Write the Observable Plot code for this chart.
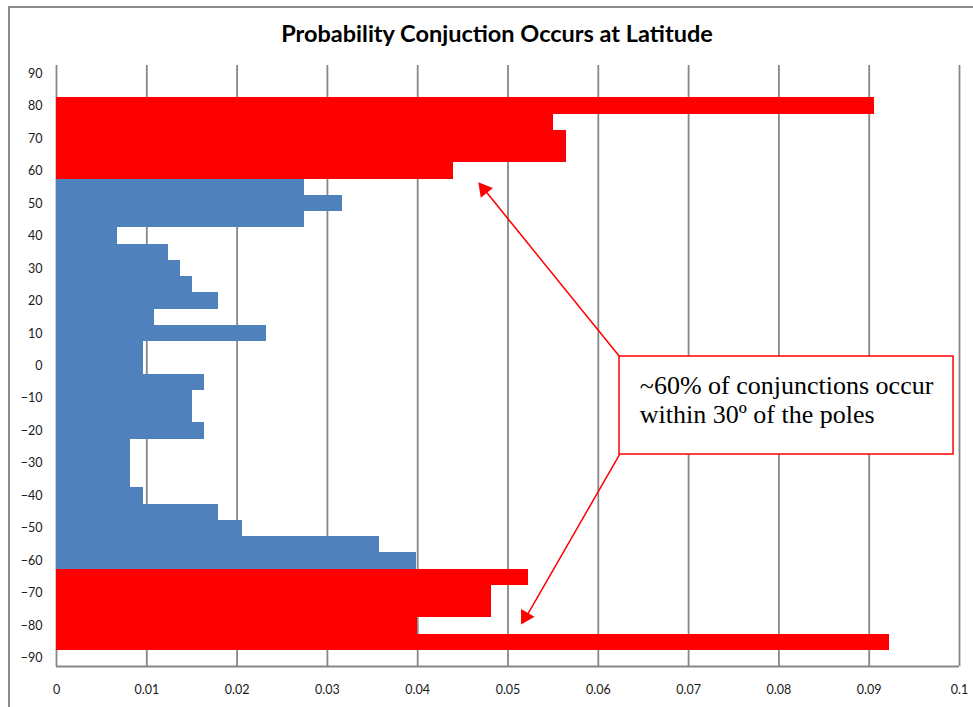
<!DOCTYPE html>
<html>
<head>
<meta charset="utf-8">
<script src="https://cdn.jsdelivr.net/npm/d3@7"></script>
<script src="https://cdn.jsdelivr.net/npm/@observablehq/plot@0.6"></script>
<style>
  html, body { margin: 0; padding: 0; background: #fff; }
  #wrap { position: relative; width: 973px; height: 707px; overflow: hidden; }
  #frame { position: absolute; left: 8px; top: 6px; width: 1000px; height: 800px; border: 2px solid #8c8c8c; box-sizing: border-box; }
  #title { position: absolute; left: 0; width: 994px; top: 19px; text-align: center; font-family: Lato, "Open Sans", sans-serif; font-weight: bold; font-size: 23.5px; color: #000; }
  #chart { position: absolute; left: 0; top: 0; }
</style>
</head>
<body>
<div id="wrap">
  <div id="frame"></div>
  <div id="title">Probability Conjuction Occurs at Latitude</div>
  <div id="chart"></div>
</div>
<script>
// Latitude bins (5° steps), probability per bin, and region of each bin
const latitudes = [90, 85, 80, 75, 70, 65, 60, 55, 50, 45, 40, 35, 30, 25, 20, 15, 10, 5, 0,
  -5, -10, -15, -20, -25, -30, -35, -40, -45, -50, -55, -60, -65, -70, -75, -80, -85, -90];
const probabilities = [0, 0, 0.0906, 0.0550, 0.0565, 0.0565, 0.0440, 0.0275, 0.0317, 0.0275, 0.0068,
  0.0124, 0.0137, 0.0151, 0.0179, 0.0109, 0.0233, 0.0096, 0.0096,
  0.0164, 0.0151, 0.0151, 0.0164, 0.0082, 0.0082, 0.0082, 0.0096, 0.0179, 0.0206, 0.0358, 0.0399,
  0.0523, 0.0482, 0.0482, 0.0400, 0.0922, 0];
const regions = ["mid", "polar", "polar", "polar", "polar", "polar", "polar", "mid", "mid", "mid", "mid",
  "mid", "mid", "mid", "mid", "mid", "mid", "mid", "mid",
  "mid", "mid", "mid", "mid", "mid", "mid", "mid", "mid", "mid", "mid", "mid", "mid",
  "polar", "polar", "polar", "polar", "polar", "mid"];
const xTicks = [0, 0.01, 0.02, 0.03, 0.04, 0.05, 0.06, 0.07, 0.08, 0.09, 0.1];
const yTicks = [90, 80, 70, 60, 50, 40, 30, 20, 10, 0, -10, -20, -30, -40, -50, -60, -70, -80, -90];

// Annotation (data units)
const noteLines = ["~60% of conjunctions occur", "within 30º of the poles"];
const noteBox = {x1: 0.06235, x2: 0.09934, y1: 2.92, y2: -27.25};
const noteTextX = 0.0646;
const noteTextY = [-6.0, -15.1];
const arrows = [
  {x1: 0.06235, y1: 2.92, x2: 0.0474, y2: 54.24, rotate: -39, dx: 5.9, dy: 7.3},
  {x1: 0.06235, y1: -27.25, x2: 0.0520, y2: -77.33, rotate: 209.8, dx: 4.7, dy: -8.2}
];

const bins = latitudes.map((lat, i) => ({lat, p: probabilities[i], region: regions[i]}));
const half = 2.5;

const plot = Plot.plot({
  width: 973,
  height: 707,
  marginLeft: 56,
  marginRight: 14,
  marginTop: 65,
  marginBottom: 41,
  style: {fontFamily: "Lato, 'Open Sans', sans-serif", fontSize: "12.5px", color: "#1a1a1a", background: "transparent"},
  x: {domain: [0, 0.1], ticks: xTicks, tickFormat: d3.format("~g"), tickSize: 0, tickPadding: 19, label: null},
  y: {domain: [-92.5, 92.5], ticks: yTicks, tickSize: 0, tickPadding: 14, label: null},
  color: {domain: ["polar", "mid"], range: ["#ff0000", "#4f81bd"]},
  marks: [
    Plot.ruleX(xTicks, {stroke: "#878787", strokeWidth: 1.8}),
    Plot.rectX(bins, {y1: d => d.lat - half, y2: d => d.lat + half, x: "p", fill: "region", shapeRendering: "crispEdges"}),
    Plot.ruleY([-92.5], {stroke: "#878787", strokeWidth: 2.2}),
    Plot.link(arrows, {x1: "x1", y1: "y1", x2: "x2", y2: "y2", stroke: "#ff0000", strokeWidth: 1.5}),
    Plot.dot(arrows, {x: "x2", y: "y2", symbol: "triangle", r: 5.8, fill: "#ff0000", stroke: "none", rotate: "rotate", dx: "dx", dy: "dy"}),
    Plot.rect([noteBox], {x1: "x1", x2: "x2", y1: "y1", y2: "y2", fill: "white", stroke: "#ff0000", strokeWidth: 1.5}),
    Plot.text(noteLines, {x: noteTextX, y: (d, i) => noteTextY[i], text: d => d, textAnchor: "start",
      fontFamily: "'Liberation Serif', 'Times New Roman', serif", fontSize: 26, fill: "#000"})
  ]
});
document.getElementById("chart").appendChild(plot);
</script>
</body>
</html>
